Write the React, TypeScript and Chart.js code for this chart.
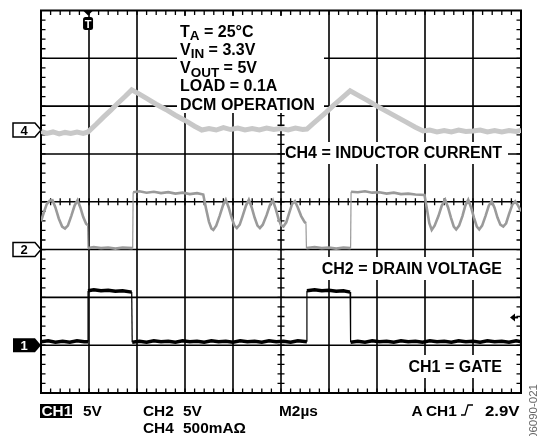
import React, { useEffect, useRef } from "react";
import { Chart, registerables } from "chart.js";

Chart.register(...registerables);

// x = time in screen divisions (2 µs/div), y = level in divisions from screen centre
const ch4Current: [number, number][] = [
  [0, 1.47], [0.12, 1.43], [0.25, 1.46], [0.38, 1.42], [0.5, 1.45], [0.62, 1.43], [0.75, 1.46], [0.88, 1.43],
  [0.98, 1.46], [1.15, 1.62], [1.3, 1.77], [1.45, 1.91], [1.6, 2.06], [1.75, 2.2], [1.89, 2.34],
  [2.05, 2.25], [2.2, 2.16], [2.4, 2.04], [2.6, 1.93], [2.8, 1.81], [3.0, 1.7], [3.2, 1.58], [3.35, 1.5],
  [3.5, 1.53], [3.65, 1.5], [3.8, 1.55], [3.95, 1.51], [4.1, 1.54], [4.25, 1.5], [4.4, 1.53], [4.55, 1.5],
  [4.7, 1.54], [4.85, 1.51], [5.0, 1.53], [5.15, 1.5], [5.3, 1.54], [5.45, 1.51], [5.54, 1.52],
  [5.65, 1.62], [5.8, 1.75], [5.95, 1.88], [6.1, 2.02], [6.25, 2.15], [6.44, 2.32],
  [6.6, 2.23], [6.8, 2.12], [7.0, 2.0], [7.2, 1.89], [7.4, 1.78], [7.6, 1.67], [7.8, 1.56], [7.96, 1.48],
  [8.1, 1.5], [8.25, 1.46], [8.4, 1.49], [8.55, 1.46], [8.7, 1.5], [8.85, 1.47], [9.0, 1.48], [9.15, 1.5],
  [9.3, 1.46], [9.45, 1.49], [9.6, 1.46], [9.75, 1.49], [9.9, 1.47], [10, 1.49],
];

const ch2Drain: [number, number][] = [
  [0, -0.41], [0.06, -0.22], [0.12, -0.05], [0.18, 0.02], [0.24, 0.03], [0.3, -0.12], [0.37, -0.35],
  [0.44, -0.52], [0.5, -0.56], [0.56, -0.5], [0.63, -0.3], [0.7, -0.08], [0.76, 0.03], [0.82, -0.12],
  [0.88, -0.32], [0.94, -0.46], [0.97, -0.49],
  [0.98, -0.97], [1.1, -0.95], [1.25, -0.97], [1.4, -0.96], [1.55, -0.98], [1.7, -0.96], [1.91, -0.97],
  [1.92, 0.2], [2.05, 0.22], [2.2, 0.19], [2.35, 0.21], [2.5, 0.18], [2.65, 0.2], [2.8, 0.17], [2.95, 0.19],
  [3.1, 0.16], [3.25, 0.18], [3.38, 0.15],
  [3.44, -0.15], [3.5, -0.42], [3.55, -0.56], [3.59, -0.59], [3.65, -0.5], [3.72, -0.3], [3.79, -0.08],
  [3.85, 0.04], [3.91, -0.12], [3.97, -0.33], [4.03, -0.5], [4.08, -0.55], [4.14, -0.48], [4.2, -0.3],
  [4.27, -0.08], [4.33, 0.04], [4.39, -0.12], [4.45, -0.33], [4.51, -0.5], [4.56, -0.55], [4.62, -0.48],
  [4.7, -0.28], [4.77, -0.07], [4.83, 0.03], [4.89, -0.15], [4.95, -0.36], [5.0, -0.49], [5.05, -0.52],
  [5.11, -0.43], [5.17, -0.24], [5.23, -0.05], [5.29, 0.01], [5.35, -0.12], [5.42, -0.3], [5.49, -0.42],
  [5.52, -0.45],
  [5.53, -0.97], [5.7, -0.95], [5.85, -0.97], [6.0, -0.96], [6.15, -0.98], [6.3, -0.96], [6.45, -0.97],
  [6.46, 0.21], [6.6, 0.2], [6.75, 0.22], [6.9, 0.19], [7.05, 0.2], [7.2, 0.17], [7.35, 0.19], [7.5, 0.16],
  [7.65, 0.17], [7.8, 0.15], [7.99, 0.14],
  [8.04, -0.15], [8.09, -0.45], [8.14, -0.59], [8.2, -0.5], [8.28, -0.3], [8.35, -0.08], [8.42, 0.04],
  [8.48, -0.12], [8.54, -0.33], [8.6, -0.52], [8.65, -0.58], [8.71, -0.5], [8.78, -0.3], [8.84, -0.08],
  [8.9, 0.04], [8.96, -0.12], [9.02, -0.33], [9.08, -0.52], [9.13, -0.58], [9.19, -0.5], [9.26, -0.3],
  [9.33, -0.08], [9.39, 0.01], [9.45, -0.13], [9.51, -0.33], [9.57, -0.48], [9.63, -0.52], [9.69, -0.45],
  [9.75, -0.26], [9.82, -0.06], [9.88, 0.01], [9.94, -0.08], [10, -0.2],
];

const ch1Gate: [number, number][] = [
  [0, -2.93], [0.15, -2.91], [0.3, -2.94], [0.45, -2.92], [0.6, -2.94], [0.75, -2.91], [0.9, -2.93], [0.98, -2.93],
  [0.98, -1.86], [1.1, -1.84], [1.25, -1.86], [1.4, -1.85], [1.55, -1.87], [1.7, -1.86], [1.89, -1.89],
  [1.9, -2.94], [2.05, -2.92], [2.2, -2.94], [2.35, -2.91], [2.5, -2.93], [2.65, -2.92], [2.8, -2.94],
  [2.95, -2.91], [3.1, -2.93], [3.25, -2.92], [3.4, -2.94], [3.55, -2.91], [3.7, -2.93], [3.85, -2.92],
  [4.0, -2.94], [4.15, -2.91], [4.3, -2.93], [4.45, -2.92], [4.6, -2.94], [4.75, -2.91], [4.9, -2.93],
  [5.05, -2.92], [5.2, -2.94], [5.35, -2.91], [5.54, -2.93],
  [5.54, -1.86], [5.7, -1.84], [5.85, -1.86], [6.0, -1.85], [6.15, -1.87], [6.3, -1.86], [6.44, -1.89],
  [6.45, -2.94], [6.6, -2.92], [6.75, -2.94], [6.9, -2.91], [7.05, -2.93], [7.2, -2.92], [7.35, -2.94],
  [7.5, -2.91], [7.65, -2.93], [7.8, -2.92], [7.95, -2.94], [8.1, -2.91], [8.25, -2.93], [8.4, -2.92],
  [8.55, -2.94], [8.7, -2.91], [8.85, -2.93], [9.0, -2.92], [9.15, -2.94], [9.3, -2.91], [9.45, -2.93],
  [9.6, -2.92], [9.75, -2.94], [9.9, -2.91], [10, -2.93],
];

const channelRefs = [
  { id: "4", level: 1.5, filled: false },
  { id: "2", level: -1, filled: false },
  { id: "1", level: -3, filled: true },
];
const triggerTime = 0.98;
const triggerLevel = -2.42;

const conditionLines: { t: string; sub?: boolean }[][] = [
  [{ t: "T" }, { t: "A", sub: true }, { t: " = 25°C" }],
  [{ t: "V" }, { t: "IN", sub: true }, { t: " = 3.3V" }],
  [{ t: "V" }, { t: "OUT", sub: true }, { t: " = 5V" }],
  [{ t: "LOAD = 0.1A" }],
  [{ t: "DCM OPERATION" }],
];
const traceNames = ["CH4 = INDUCTOR CURRENT", "CH2 = DRAIN VOLTAGE", "CH1 = GATE"];
const footerRow1 = ["CH1", "5V", "CH2", "5V", "M2µs", "A", "CH1", "2.9V"];
const footerRow2 = ["CH4", "500mAΩ"];
const figureId = "06090-021";

const FONT = '"Liberation Sans", Arial, Helvetica, sans-serif';

function txt(ctx: CanvasRenderingContext2D, s: string, x: number, y: number, size: number, sx = 1, align: CanvasTextAlign = "left", color = "#000") {
  ctx.save();
  ctx.font = `bold ${size}px ${FONT}`;
  ctx.fillStyle = color;
  ctx.textBaseline = "alphabetic";
  ctx.translate(x, y);
  ctx.scale(sx, 1);
  ctx.textAlign = align;
  ctx.fillText(s, 0, 0);
  ctx.restore();
}

const scopePlugin = {
  id: "scopeScreen",
  beforeDraw(chart: any) {
    const ctx = chart.ctx as CanvasRenderingContext2D;
    ctx.save();
    ctx.fillStyle = "#fff";
    ctx.fillRect(0, 0, chart.width, chart.height);
    ctx.restore();
  },
  beforeDatasetsDraw(chart: any) {
    const ctx = chart.ctx as CanvasRenderingContext2D;
    const { left, right, top, bottom } = chart.chartArea;
    const xs = chart.scales.x;
    const ys = chart.scales.y;
    const cx = xs.getPixelForValue(5);
    const cy = ys.getPixelForValue(0);
    ctx.save();
    ctx.strokeStyle = "#000";
    ctx.lineWidth = 1.6;
    ctx.beginPath();
    for (let i = 1; i < 10; i++) {
      const px = xs.getPixelForValue(i);
      ctx.moveTo(px, top);
      ctx.lineTo(px, bottom);
    }
    for (let j = -3; j <= 3; j++) {
      const py = ys.getPixelForValue(j);
      ctx.moveTo(left, py);
      ctx.lineTo(right, py);
    }
    ctx.stroke();
    ctx.lineWidth = 1.3;
    ctx.beginPath();
    for (let k = 1; k < 50; k++) {
      const px = xs.getPixelForValue(k * 0.2);
      ctx.moveTo(px, top);
      ctx.lineTo(px, top + 4.5);
      ctx.moveTo(px, bottom - 4.5);
      ctx.lineTo(px, bottom);
      ctx.moveTo(px, cy - 3.5);
      ctx.lineTo(px, cy + 3.5);
    }
    for (let k = -19; k < 20; k++) {
      const py = ys.getPixelForValue(k * 0.2);
      ctx.moveTo(left, py);
      ctx.lineTo(left + 4.5, py);
      ctx.moveTo(right - 4.5, py);
      ctx.lineTo(right, py);
      ctx.moveTo(cx - 3.5, py);
      ctx.lineTo(cx + 3.5, py);
    }
    ctx.stroke();
    // white label boxes
    ctx.fillStyle = "#fff";
    ctx.fillRect(177, 16, 147, 97);
    ctx.fillRect(285, 142, 223, 22);
    ctx.fillRect(314, 257, 194, 23);
    ctx.fillRect(400, 355, 108, 23);
    ctx.lineWidth = 2;
    ctx.strokeRect(left, top, right - left, bottom - top);
    ctx.restore();
  },
  afterDatasetsDraw(chart: any) {
    const ctx = chart.ctx as CanvasRenderingContext2D;
    const { left, right, top } = chart.chartArea;
    const xs = chart.scales.x;
    const ys = chart.scales.y;
    ctx.save();

    // condition block
    conditionLines.forEach((line, i) => {
      let x = 180;
      const base = 36.7 + 18.2 * i;
      line.forEach((p) => {
        const size = p.sub ? 13.5 : 16;
        ctx.font = `bold ${size}px ${FONT}`;
        txt(ctx, p.t, x, base + (p.sub ? 3.5 : 0), size);
        x += ctx.measureText(p.t).width;
      });
    });

    // trace names
    const nameBase = [158, 274, 371.7];
    traceNames.forEach((n, i) => txt(ctx, n, 502, nameBase[i], 16, 1, "right"));

    // channel reference markers
    channelRefs.forEach((r) => {
      const cy = ys.getPixelForValue(r.level);
      ctx.beginPath();
      ctx.moveTo(13, cy - 7);
      ctx.lineTo(35, cy - 7);
      ctx.lineTo(left, cy);
      ctx.lineTo(35, cy + 7);
      ctx.lineTo(13, cy + 7);
      ctx.closePath();
      if (r.filled) {
        ctx.fillStyle = "#000";
        ctx.fill();
      } else {
        ctx.fillStyle = "#fff";
        ctx.fill();
        ctx.strokeStyle = "#000";
        ctx.lineWidth = 1.5;
        ctx.stroke();
      }
      txt(ctx, r.id, 24, cy + 4.5, 13, 1, "center", r.filled ? "#fff" : "#000");
    });

    // trigger position marker
    const tx = xs.getPixelForValue(triggerTime);
    ctx.fillStyle = "#000";
    ctx.beginPath();
    ctx.moveTo(tx - 5, top);
    ctx.lineTo(tx + 5, top);
    ctx.lineTo(tx, top + 5);
    ctx.closePath();
    ctx.fill();
    ctx.beginPath();
    (ctx as any).roundRect ? (ctx as any).roundRect(tx - 5, top + 6.5, 10, 13, 2.5) : ctx.rect(tx - 5, top + 6.5, 10, 13);
    ctx.fill();
    txt(ctx, "T", tx, top + 17.5, 11, 1, "center", "#fff");

    // trigger level marker
    const ty = ys.getPixelForValue(triggerLevel);
    ctx.beginPath();
    ctx.moveTo(right - 11, ty);
    ctx.lineTo(right - 6, ty - 4);
    ctx.lineTo(right - 6, ty + 4);
    ctx.closePath();
    ctx.fill();
    ctx.strokeStyle = "#000";
    ctx.lineWidth = 2;
    ctx.beginPath();
    ctx.moveTo(right - 7, ty);
    ctx.lineTo(right - 3, ty);
    ctx.stroke();

    // footer
    const r1 = 416;
    const r2 = 433;
    ctx.fillStyle = "#000";
    ctx.fillRect(40, 404, 32, 14);
    txt(ctx, footerRow1[0], 41.5, r1, 14, 1.1, "left", "#fff");
    txt(ctx, footerRow1[1], 83, r1, 14, 1.1);
    txt(ctx, footerRow1[2], 143, r1, 14, 1.1);
    txt(ctx, footerRow1[3], 183, r1, 14, 1.1);
    txt(ctx, footerRow1[4], 279, r1, 14, 1.1);
    txt(ctx, footerRow1[5], 411.5, r1, 14, 1.1);
    txt(ctx, footerRow1[6], 426, r1, 14, 1.1);
    txt(ctx, footerRow1[7], 519.5, r1, 14, 1.2, "right");
    txt(ctx, footerRow2[0], 143, r2, 14, 1.1);
    txt(ctx, footerRow2[1], 183, r2, 14, 1.1);
    // rising edge symbol
    ctx.strokeStyle = "#000";
    ctx.lineWidth = 1.3;
    ctx.beginPath();
    ctx.moveTo(461, 415);
    ctx.lineTo(465, 415);
    ctx.lineTo(468, 405);
    ctx.lineTo(473, 405);
    ctx.stroke();

    // figure id (rotated)
    ctx.save();
    ctx.translate(537, 439);
    ctx.rotate(-Math.PI / 2);
    ctx.font = `11.5px ${FONT}`;
    ctx.fillStyle = "#666";
    ctx.textAlign = "left";
    ctx.fillText(figureId, 0, 0);
    ctx.restore();

    ctx.restore();
  },
};

const thinEdge = (c: any) => (Math.abs(c.p1.parsed.x - c.p0.parsed.x) < 0.02 ? 1.2 : undefined);

export default function App() {
  const ref = useRef<HTMLCanvasElement | null>(null);
  useEffect(() => {
    if (!ref.current) return;
    const toPts = (a: [number, number][]) => a.map(([x, y]) => ({ x, y }));
    const chart = new Chart(ref.current, {
      type: "line",
      data: {
        datasets: [
          {
            label: "CH1",
            data: toPts(ch1Gate),
            borderColor: "#000",
            borderWidth: 3.5,
            pointRadius: 0,
            tension: 0,
            order: 1,
            segment: { borderWidth: thinEdge },
          },
          {
            label: "CH2",
            data: toPts(ch2Drain),
            borderColor: "#9a9a9a",
            borderWidth: 2.6,
            pointRadius: 0,
            tension: 0,
            order: 2,
            segment: { borderWidth: thinEdge },
          },
          {
            label: "CH4",
            data: toPts(ch4Current),
            borderColor: "#c8c8c8",
            borderWidth: 5,
            pointRadius: 0,
            tension: 0,
            order: 3,
          },
        ],
      } as any,
      options: {
        responsive: false,
        animation: false,
        devicePixelRatio: 1,
        layout: { padding: { left: 41, right: 19, top: 10.5, bottom: 43 } },
        plugins: { legend: { display: false }, tooltip: { enabled: false } },
        events: [],
        scales: {
          x: { type: "linear", min: 0, max: 10, display: false },
          y: { type: "linear", min: -4, max: 4, display: false },
        },
      } as any,
      plugins: [scopePlugin],
    });
    return () => chart.destroy();
  }, []);
  return (
    <div style={{ position: "absolute", left: 0, top: 0, width: 540, height: 436 }}>
      <canvas ref={ref} width={540} height={436} style={{ width: 540, height: 436, display: "block" }} />
    </div>
  );
}
